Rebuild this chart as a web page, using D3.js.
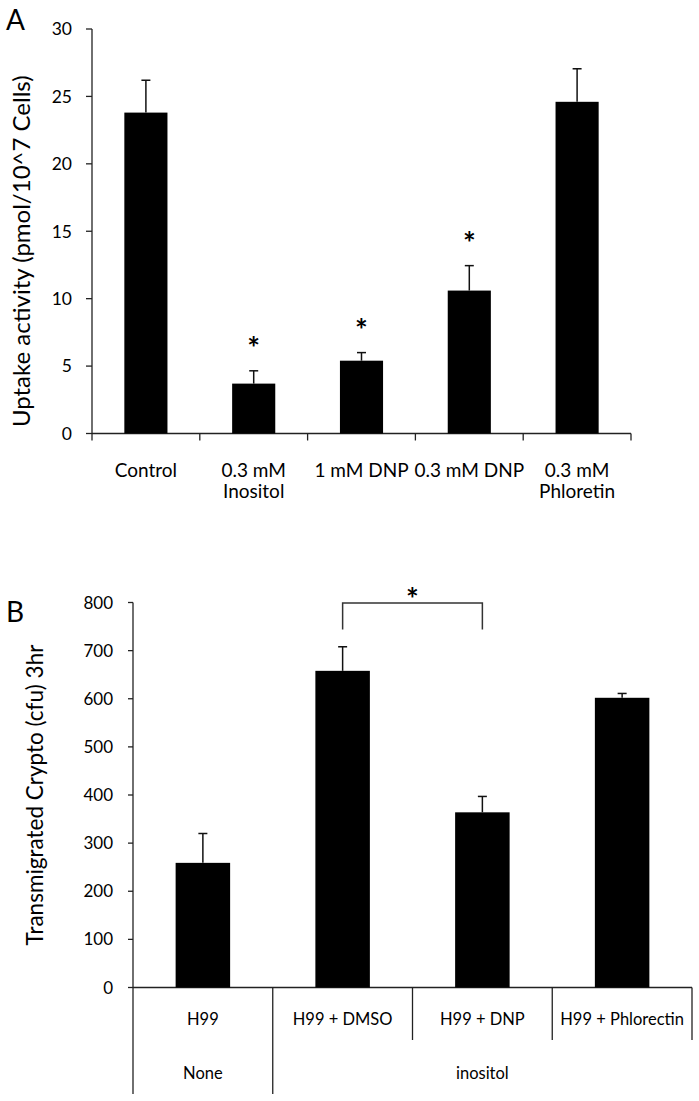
<!DOCTYPE html>
<html>
<head>
<meta charset="utf-8">
<script src="https://cdn.jsdelivr.net/npm/d3@7"></script>
<style>
  body { margin: 0; background: #fff; }
  svg text { font-family: Lato, "Open Sans", sans-serif; fill: #000; }
</style>
</head>
<body>
<svg id="fig" width="699" height="1101"></svg>
<script>
// Panel A data
const uptakeCats = [["Control"], ["0.3 mM", "Inositol"], ["1 mM DNP"], ["0.3 mM DNP"], ["0.3 mM", "Phloretin"]];
const uptakeVals = [23.8, 3.7, 5.4, 10.6, 24.6];
const uptakeErr = [2.4, 0.95, 0.6, 1.85, 2.45];
const uptakeStar = [false, true, true, true, false];
const uptakeTicks = [0, 5, 10, 15, 20, 25, 30];

// Panel B data
const migCats = ["H99", "H99 + DMSO", "H99 + DNP", "H99 + Phlorectin"];
const migGroups = [{ name: "None", from: 0, to: 0 }, { name: "inositol", from: 1, to: 3 }];
const migVals = [259, 658, 364, 602];
const migErr = [61, 50, 33, 9];
const migTicks = [0, 100, 200, 300, 400, 500, 600, 700, 800];
const migBracket = { a: 1, b: 2, top: 799, bottom: 744 };

const svg = d3.select("#fig");
const axisColor = "#222";

// ---------- Panel A ----------
(() => {
    const x = d3.scaleBand().domain(d3.range(uptakeVals.length)).range([92, 631]).paddingInner(0.6).paddingOuter(0.3);
    const y = d3.scaleLinear().domain([0, 30]).range([433.5, 29]);
    const g = svg.append("g");

    svg.append("text").attr("x", 6).attr("y", 30).attr("font-size", 28).text("A");

    // y axis
    g.append("line").attr("x1", 92).attr("x2", 92).attr("y1", y(30)).attr("y2", y(0))
        .attr("stroke", axisColor).attr("stroke-width", 1.3);
    uptakeTicks.forEach(t => {
        g.append("line").attr("x1", 86).attr("x2", 92).attr("y1", y(t)).attr("y2", y(t))
            .attr("stroke", axisColor).attr("stroke-width", 1.3);
        g.append("text").attr("x", 72).attr("y", y(t)).attr("dy", "0.36em")
            .attr("text-anchor", "end").attr("font-size", 17.5).text(t);
    });

    // x axis
    g.append("line").attr("x1", 92).attr("x2", 631).attr("y1", y(0)).attr("y2", y(0))
        .attr("stroke", axisColor).attr("stroke-width", 1.3);
    const step = x.step();
    d3.range(uptakeVals.length + 1).forEach(i => {
        const xx = 92 + i * step;
        g.append("line").attr("x1", xx).attr("x2", xx).attr("y1", y(0)).attr("y2", y(0) + 7)
            .attr("stroke", axisColor).attr("stroke-width", 1.3);
    });

    uptakeVals.forEach((v, i) => {
        const cx = x(i) + x.bandwidth() / 2;
        g.append("rect").attr("x", x(i)).attr("width", x.bandwidth())
            .attr("y", y(v)).attr("height", y(0) - y(v)).attr("fill", "#000");
        const top = y(v + uptakeErr[i]);
        g.append("line").attr("x1", cx).attr("x2", cx).attr("y1", y(v)).attr("y2", top)
            .attr("stroke", "#111").attr("stroke-width", 1.5);
        g.append("line").attr("x1", cx - 4.5).attr("x2", cx + 4.5).attr("y1", top).attr("y2", top)
            .attr("stroke", "#111").attr("stroke-width", 1.5);
        if (uptakeStar[i]) {
            g.append("text").attr("x", cx).attr("y", top - 12).attr("text-anchor", "middle")
                .attr("font-size", 30).attr("font-weight", "bold").text("*");
        }
        uptakeCats[i].forEach((line, k) => {
            g.append("text").attr("x", cx).attr("y", 477 + k * 21).attr("text-anchor", "middle")
                .attr("font-size", 19).text(line);
        });
    });

    svg.append("text").attr("transform", `translate(30,${(y(0) + y(30)) / 2 + 20}) rotate(-90)`)
        .attr("text-anchor", "middle").attr("font-size", 24).text("Uptake activity (pmol/10^7 Cells)");
})();

// ---------- Panel B ----------
(() => {
    const left = 133, right = 692;
    const x = d3.scaleBand().domain(d3.range(migVals.length)).range([left, right]).paddingInner(0.61).paddingOuter(0.305);
    const y = d3.scaleLinear().domain([0, 800]).range([987.5, 602.5]);
    const g = svg.append("g");
    const step = x.step();

    svg.append("text").attr("x", 6).attr("y", 622).attr("font-size", 28).text("B");

    // y axis (extends down through category table)
    g.append("line").attr("x1", left).attr("x2", left).attr("y1", y(800)).attr("y2", 1094)
        .attr("stroke", axisColor).attr("stroke-width", 1.3);
    migTicks.forEach(t => {
        g.append("line").attr("x1", left - 5).attr("x2", left).attr("y1", y(t)).attr("y2", y(t))
            .attr("stroke", axisColor).attr("stroke-width", 1.3);
        g.append("text").attr("x", 113).attr("y", y(t)).attr("dy", "0.36em")
            .attr("text-anchor", "end").attr("font-size", 17).text(t);
    });

    g.append("line").attr("x1", left).attr("x2", right).attr("y1", y(0)).attr("y2", y(0))
        .attr("stroke", axisColor).attr("stroke-width", 1.3);

    // category separators
    d3.range(1, migVals.length + 1).forEach(i => {
        const xx = left + i * step;
        const isGroupEdge = migGroups.some(gr => gr.to + 1 === i) && i < migVals.length;
        g.append("line").attr("x1", xx).attr("x2", xx).attr("y1", y(0)).attr("y2", isGroupEdge ? 1094 : 1040)
            .attr("stroke", axisColor).attr("stroke-width", 1.3);
    });

    migVals.forEach((v, i) => {
        const cx = x(i) + x.bandwidth() / 2;
        g.append("rect").attr("x", x(i)).attr("width", x.bandwidth())
            .attr("y", y(v)).attr("height", y(0) - y(v)).attr("fill", "#000");
        const top = y(v + migErr[i]);
        g.append("line").attr("x1", cx).attr("x2", cx).attr("y1", y(v)).attr("y2", top)
            .attr("stroke", "#111").attr("stroke-width", 1.5);
        g.append("line").attr("x1", cx - 4.5).attr("x2", cx + 4.5).attr("y1", top).attr("y2", top)
            .attr("stroke", "#111").attr("stroke-width", 1.5);
        g.append("text").attr("x", left + (i + 0.5) * step).attr("y", 1025).attr("text-anchor", "middle")
            .attr("font-size", 16.5).text(migCats[i]);
    });

    migGroups.forEach(gr => {
        const cx = left + ((gr.from + gr.to + 1) / 2) * step;
        g.append("text").attr("x", cx).attr("y", 1079).attr("text-anchor", "middle")
            .attr("font-size", 16.5).text(gr.name);
    });

    // significance bracket
    const xa = left + (migBracket.a + 0.5) * step, xb = left + (migBracket.b + 0.5) * step;
    g.append("path")
        .attr("d", `M${xa},${y(migBracket.bottom)}V${y(migBracket.top)}H${xb}V${y(migBracket.bottom)}`)
        .attr("fill", "none").attr("stroke", "#333").attr("stroke-width", 1.5);
    g.append("text").attr("x", (xa + xb) / 2).attr("y", y(migBracket.top) + 7).attr("text-anchor", "middle")
        .attr("font-size", 30).attr("font-weight", "bold").text("*");

    svg.append("text").attr("transform", `translate(43,${(y(0) + y(800)) / 2}) rotate(-90)`)
        .attr("text-anchor", "middle").attr("font-size", 22.5).text("Transmigrated Crypto (cfu) 3hr");
})();
</script>
</body>
</html>
